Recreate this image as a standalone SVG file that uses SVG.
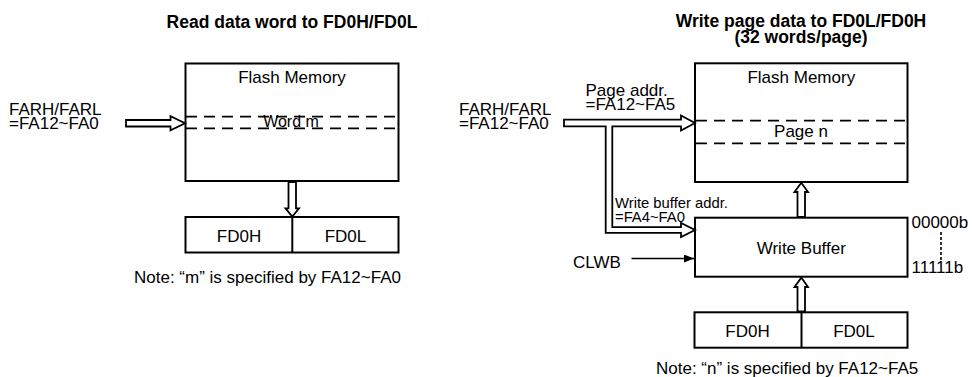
<svg xmlns="http://www.w3.org/2000/svg" width="972" height="377" viewBox="0 0 972 377">
<defs>
<style>
text{font-family:"Liberation Sans",Arial,sans-serif;font-size:17px;fill:#000}
.t{font-weight:bold;font-size:17.5px;text-anchor:middle}
.c{text-anchor:middle}
.s{font-size:14.8px}
.box{fill:#fff;stroke:#000;stroke-width:2}
.dash{fill:none;stroke:#000;stroke-width:1.8;stroke-dasharray:11 7}
.bus{fill:#fff;stroke:#000;stroke-width:1.8;stroke-linejoin:miter}
.ln{fill:none;stroke:#000;stroke-width:1.6}
</style>
<marker id="ah" markerWidth="10" markerHeight="8" refX="10" refY="4" orient="auto" markerUnits="userSpaceOnUse">
<path d="M0,0 L10,4 L0,8 Z" fill="#000"/>
</marker>
</defs>
<rect width="972" height="377" fill="#fff"/>

<g id="titles">
<text class="t" x="292" y="28">Read data word to FD0H/FD0L</text>
<text class="t" x="801" y="27">Write page data to FD0L/FD0H</text>
<text class="t" x="801" y="43">(32 words/page)</text>
</g>

<!-- Left diagram -->
<g id="left-addr">
<text x="9" y="114.5">FARH/FARL</text>
<text x="9" y="128.5">=FA12~FA0</text>
</g>
<g id="left-flash">
<rect class="box" x="185.5" y="63.5" width="213" height="117.5"/>
<text class="c" x="292" y="82.5">Flash Memory</text>
<line class="dash" x1="186" y1="116.7" x2="398" y2="116.7"/>
<line class="dash" x1="186" y1="128.3" x2="398" y2="128.3"/>
<text class="c" x="291" y="126.5" style="font-size:16px">Word m</text>
</g>
<g id="left-fd0">
<rect class="box" x="185.5" y="217" width="213" height="35.5"/>
<line class="ln" style="stroke-width:2" x1="292.3" y1="217" x2="292.3" y2="252.5"/>
<text class="c" x="239" y="242.3">FD0H</text>
<text class="c" x="345.5" y="242.3">FD0L</text>
</g>
<text id="left-note" x="134" y="283.3">Note: “m” is specified by FA12~FA0</text>

<!-- Right diagram -->
<g id="right-addr">
<text x="459" y="114.5">FARH/FARL</text>
<text x="459" y="128.5">=FA12~FA0</text>
</g>
<g id="page-addr-label">
<text x="585.5" y="95.7">Page addr.</text>
<text x="585.5" y="110">=FA12~FA5</text>
</g>
<g id="wb-addr-label">
<text class="s" x="615" y="207.5">Write buffer addr.</text>
<text class="s" x="615" y="221.8">=FA4~FA0</text>
</g>
<g id="right-flash">
<rect class="box" x="695" y="63.3" width="212.5" height="118.7"/>
<text class="c" x="801.3" y="82.5">Flash Memory</text>
<line class="dash" x1="696" y1="120.7" x2="907" y2="120.7"/>
<line class="dash" x1="696" y1="143.3" x2="907" y2="143.3"/>
<text class="c" x="801" y="136.7">Page n</text>
</g>
<g id="write-buffer">
<rect class="box" x="695" y="217.7" width="212.5" height="59"/>
<text class="c" x="801.3" y="254">Write Buffer</text>
</g>
<g id="wb-range">
<text x="911.5" y="227.7">00000b</text>
<text x="911.5" y="272.7">11111b</text>
<line x1="941" y1="232" x2="941" y2="261" stroke="#000" stroke-width="1.6" stroke-dasharray="3 2"/>
</g>
<g id="right-fd0">
<rect class="box" x="694.5" y="312.3" width="213" height="35.4"/>
<line class="ln" style="stroke-width:2" x1="801.5" y1="312.3" x2="801.5" y2="347.7"/>
<text class="c" x="747.5" y="336.7">FD0H</text>
<text class="c" x="854" y="336.7">FD0L</text>
</g>
<g id="clwb">
<text x="573" y="268">CLWB</text>
</g>
<text id="right-note" x="656" y="374.3">Note: “n” is specified by FA12~FA5</text>

<g id="connectors">
<!-- left address arrow -->
<path class="bus" d="M126,120 H170.5 V116.3 L185,123.3 L170.5,130.3 V126.5 H126 Z"/>
<!-- left down arrow flash -> FD0 -->
<path class="bus" d="M288.5,182 V208.3 H285.5 L292.3,216.5 L299,208.3 H296 V182 Z"/>
<!-- right address bus with branch to write buffer -->
<path class="bus" d="M564,119.7 H681 V115.5 L695,123 L681,130.5 V126.3 H612.3 V227.2 H681 V223 L695,230 L681,237 V232.8 H605.7 V126.3 H564 Z"/>
<!-- write buffer -> flash -->
<path class="bus" d="M797.5,217 V192 H794.5 L801.3,182.8 L808,192 H805 V217 Z"/>
<!-- FD0 -> write buffer -->
<path class="bus" d="M797.5,311.5 V287 H794.5 L801.3,277.6 L808,287 H805 V311.5 Z"/>
<!-- CLWB -->
<line class="ln" x1="631.5" y1="258.5" x2="694" y2="258.5" marker-end="url(#ah)"/>
</g>
</svg>
